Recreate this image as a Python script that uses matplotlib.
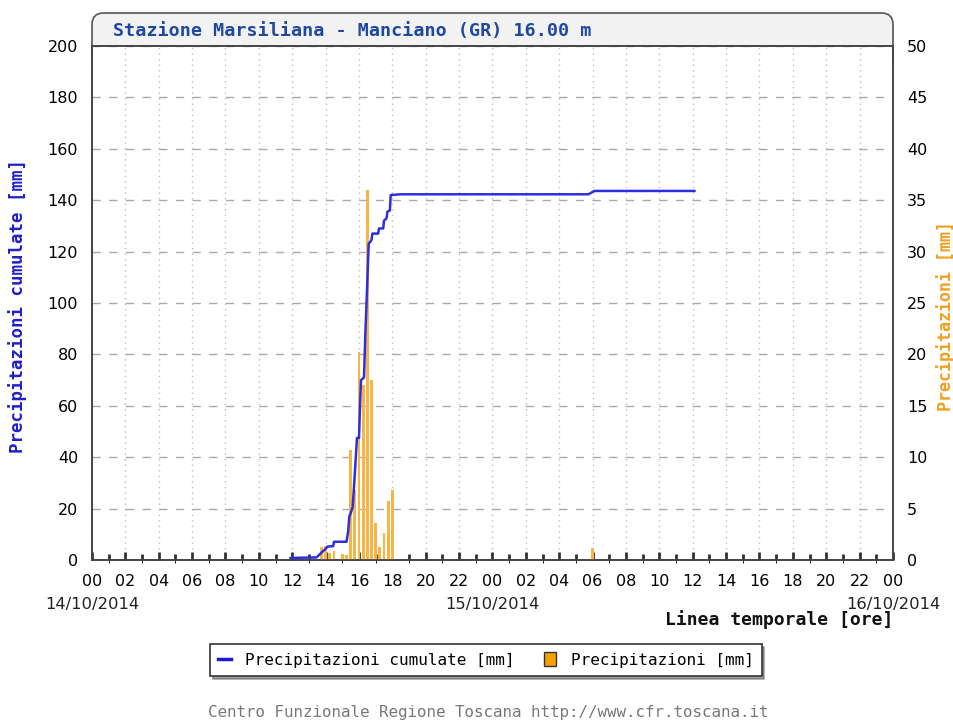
import matplotlib.pyplot as plt
from matplotlib.patches import FancyBboxPatch, Patch
from matplotlib.lines import Line2D
import matplotlib.transforms as mtransforms

# hours from 14/10/2014 00:00
cum_hours = [11.9, 13.45, 14.05, 14.1, 14.45, 14.5, 15.25, 15.35, 15.42, 15.5, 15.62,
             15.7, 15.8, 15.88, 16.0, 16.06, 16.12, 16.3, 16.38, 16.48, 16.58, 16.75,
             16.8, 17.15, 17.2, 17.45, 17.5, 17.65, 17.7, 17.85, 17.9, 18.5, 29.75,
             30.1, 36.1]
cum_mm = [0.8, 1.0, 4.7, 5.2, 5.4, 7.1, 7.1, 11.0, 17.0, 18.2, 20.6,
          28.4, 39.0, 47.5, 47.5, 59.5, 70.0, 71.0, 88.0, 105.0, 123.0, 124.5,
          127.0, 127.0, 129.0, 129.0, 132.0, 133.0, 135.5, 136.0, 142.0, 142.3, 142.3,
          143.6, 143.6]

bar_hours = [13.75, 14.0, 14.25, 14.5, 15.0, 15.25, 15.5, 15.75, 16.0, 16.25, 16.5,
             16.75, 17.0, 17.25, 17.5, 17.75, 18.0, 30.0]
bar_mm = [1.3, 1.4, 0.7, 0.9, 0.6, 0.5, 10.7, 6.8, 20.2, 17.0, 36.0,
          17.5, 3.6, 1.3, 2.6, 5.7, 6.8, 1.2]

xtick_hours = list(range(0, 49, 2))
xtick_labels = ['%02d' % (h % 24) for h in xtick_hours]
date_hours = [0, 24, 48]
date_labels = ['14/10/2014', '15/10/2014', '16/10/2014']

title = 'Stazione Marsiliana - Manciano (GR) 16.00 m'
line_color = '#2e2ee0'
bar_color = '#f7b546'
frame_color = '#444444'

fig = plt.figure(figsize=(9.54, 7.21), dpi=100)
rect = [92 / 954, 1 - 560 / 721, 801 / 954, 514 / 721]

# title box (rounded top, lower part hidden by the plot)
box = FancyBboxPatch((rect[0], 1 - 46 / 721 - 0.03), rect[2], 33 / 721 + 0.03,
                     boxstyle='round,pad=0,rounding_size=0.012',
                     mutation_aspect=954 / 721,
                     transform=fig.transFigure, facecolor='#f2f2f2',
                     edgecolor='#555555', linewidth=1.2, zorder=-1)
fig.add_artist(box)
fig.text(113 / 954, 1 - 31 / 721, title, family='DejaVu Sans Mono', weight='bold',
         fontsize=13.2, color='#1f48a0', va='center', ha='left')

# bars on right axis (background axes)
axr = fig.add_axes(rect)
axr.bar(bar_hours, bar_mm, width=0.17, color=bar_color, linewidth=0, zorder=3)
axr.set_ylim(0, 50)
axr.set_yticks(range(0, 51, 5))
axr.yaxis.tick_right()
axr.yaxis.set_label_position('right')
axr.set_ylabel('Precipitazioni [mm]', family='DejaVu Sans Mono', weight='bold',
               fontsize=12, color='#f0a020', rotation=90, va='center')
axr.yaxis.set_label_coords((946 - 92) / 801, 0.475)
axr.grid(axis='y', color='#aaaaaa', linestyle=(0, (6, 6)), linewidth=1, zorder=0)
axr.grid(axis='x', color='#bbbbbb', linestyle=(0, (1, 3)), linewidth=1, zorder=0)

# cumulative line on left axis (transparent, on top)
axl = fig.add_axes(rect, sharex=axr)
axl.patch.set_visible(False)
axl.plot(cum_hours, cum_mm, color=line_color, linewidth=1.8, zorder=4)
axl.set_ylim(0, 200)
axl.set_yticks(range(0, 201, 20))
axl.set_ylabel('Precipitazioni cumulate [mm]', family='DejaVu Sans Mono',
               weight='bold', fontsize=12.5, color='#2020c8', va='center')
axl.yaxis.set_label_coords((18 - 92) / 801, 0.495)
axl.tick_params(axis='x', labelbottom=False, bottom=False)

axr.set_xlim(0, 48)
axr.set_xticks(xtick_hours)
axr.set_xticklabels(xtick_labels)
axr.set_xticks(range(0, 49), minor=True)
axr.tick_params(axis='x', which='major', direction='in', length=6, width=2,
                color='#333333', labelsize=11.5, pad=10)
axr.tick_params(axis='x', which='minor', direction='in', length=4, width=2,
                color='#333333')
for a in (axl, axr):
    a.tick_params(axis='y', direction='in', length=0, labelsize=11.5, pad=10)
    for s in a.spines.values():
        s.set_color(frame_color)
        s.set_linewidth(1.2)

trans = mtransforms.blended_transform_factory(axr.transData, fig.transFigure)
for h, lab in zip(date_hours, date_labels):
    axr.text(h, 1 - 604 / 721, lab, transform=trans, ha='center', va='center',
             fontsize=11.8, color='#222222')
fig.text(893 / 954, 1 - 620 / 721, 'Linea temporale [ore]', family='DejaVu Sans Mono',
         weight='bold', fontsize=13, ha='right', va='center', color='#111111')

handles = [Line2D([0], [0], color='#1a1ad0', linewidth=2.5),
           Patch(facecolor='#f5a000', edgecolor='#333333', linewidth=1)]
leg = fig.legend(handles, ['Precipitazioni cumulate [mm]', 'Precipitazioni [mm]'],
                 loc='center', bbox_to_anchor=(486 / 954, 1 - 660 / 721), ncol=2,
                 fancybox=False, shadow=True, framealpha=1, edgecolor='#333333',
                 prop={'family': 'DejaVu Sans Mono', 'size': 11.5},
                 handlelength=0.8, handleheight=1.0, columnspacing=1.8,
                 handletextpad=0.9, borderpad=0.5)
leg.get_frame().set_linewidth(1.2)

fig.text(488 / 954, 1 - 713 / 721, 'Centro Funzionale Regione Toscana http://www.cfr.toscana.it',
         family='DejaVu Sans Mono', fontsize=11.4, color='#777777', ha='center', va='center')

fig.savefig('out.png', dpi=100)
